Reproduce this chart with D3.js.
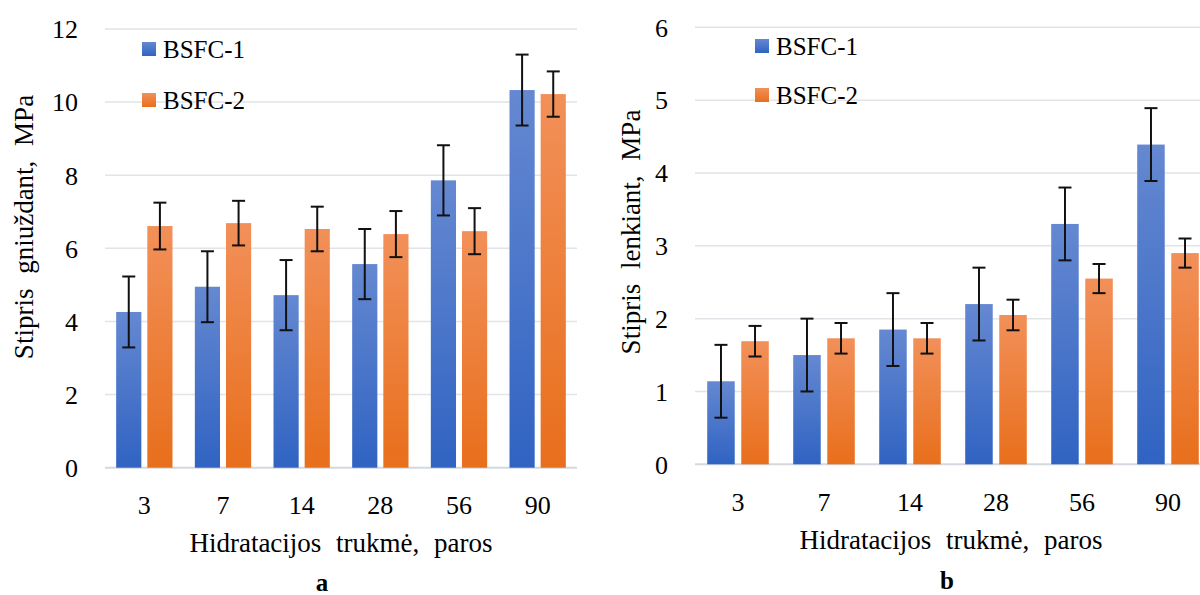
<!DOCTYPE html>
<html>
<head>
<meta charset="utf-8">
<script src="https://cdn.jsdelivr.net/npm/d3@7"></script>
<style>
  html, body { margin: 0; padding: 0; background: #fff; }
  svg { display: block; }
  svg text { font-family: "Liberation Serif", "Times New Roman", Tinos, "DejaVu Serif", serif !important; fill: #000; }
</style>
</head>
<body>
<svg id="chart" width="1200" height="595"></svg>
<script>
// Hydration time, days
const categories = ["3", "7", "14", "28", "56", "90"];
const seriesNames = ["BSFC-1", "BSFC-2"];

// (a) compressive strength, MPa
const compBsfc1 = [4.26, 4.95, 4.72, 5.57, 7.86, 10.33];
const compBsfc2 = [6.61, 6.69, 6.53, 6.39, 6.47, 10.22];
const compErr1 = [0.97, 0.97, 0.96, 0.96, 0.96, 0.97];
const compErr2 = [0.64, 0.61, 0.61, 0.63, 0.63, 0.62];
const compTicks = [0, 2, 4, 6, 8, 10, 12];

// (b) flexural strength, MPa
const flexBsfc1 = [1.14, 1.50, 1.85, 2.20, 3.30, 4.39];
const flexBsfc2 = [1.69, 1.73, 1.73, 2.05, 2.55, 2.90];
const flexErr1 = [0.50, 0.50, 0.50, 0.50, 0.50, 0.50];
const flexErr2 = [0.21, 0.21, 0.21, 0.21, 0.20, 0.20];
const flexTicks = [0, 1, 2, 3, 4, 5, 6];

const FONT = '"Liberation Serif", "Times New Roman", Tinos, "DejaVu Serif", serif';
const svg = d3.select("#chart");

// vertical gradients for the two series
const defs = svg.append("defs");
function addGradient(id, top, bottom) {
  const g = defs.append("linearGradient").attr("id", id)
    .attr("x1", 0).attr("y1", 0).attr("x2", 0).attr("y2", 1);
  g.append("stop").attr("offset", "0%").attr("stop-color", top);
  g.append("stop").attr("offset", "100%").attr("stop-color", bottom);
}
addGradient("gradBlue", "#6588d1", "#3063c2");
addGradient("gradOrange", "#f29059", "#e86f1c");
const fills = ["url(#gradBlue)", "url(#gradOrange)"];

function drawPanel(cfg) {
  const g = svg.append("g").attr("font-family", FONT);
  const x = d3.scaleBand().domain(categories).range([cfg.left, cfg.right]).padding(0);
  const y = d3.scaleLinear().domain([0, cfg.max]).range([cfg.bottom, cfg.top]);

  // horizontal gridlines
  g.append("g").selectAll("line").data(cfg.ticks).join("line")
    .attr("x1", cfg.left).attr("x2", cfg.right)
    .attr("y1", d => y(d)).attr("y2", d => y(d))
    .attr("stroke", d => d === 0 ? "#d4d8de" : "#e1e4e8")
    .attr("stroke-width", d => d === 0 ? 2 : 1.5);

  // y axis tick labels
  const yAxis = d3.axisLeft(y).tickValues(cfg.ticks).tickSize(0).tickPadding(0)
    .tickFormat(d3.format("d"));
  const ya = g.append("g").attr("transform", `translate(${cfg.left - 27},0)`).call(yAxis)
    .attr("font-family", FONT);
  ya.select(".domain").remove();
  ya.selectAll("text").attr("font-size", 26).attr("dy", "0.34em");

  // x axis tick labels
  const xAxis = d3.axisBottom(x).tickSize(0).tickPadding(0);
  const xa = g.append("g").attr("transform", `translate(0,${cfg.xLabelY})`).call(xAxis)
    .attr("font-family", FONT);
  xa.select(".domain").remove();
  xa.selectAll("text").attr("font-size", 26).attr("dy", 0);

  const bw = x.bandwidth() * 0.32;
  const gap = x.bandwidth() * 0.076;
  const offsets = [-gap / 2 - bw, gap / 2];

  cfg.series.forEach((vals, si) => {
    const errs = cfg.errors[si];
    g.append("g").selectAll("rect").data(vals).join("rect")
      .attr("x", (d, i) => x(categories[i]) + x.bandwidth() / 2 + offsets[si])
      .attr("y", d => y(d))
      .attr("width", bw)
      .attr("height", d => y(0) - y(d))
      .attr("fill", fills[si]);

    // error bars
    const eb = g.append("g").attr("stroke", "#111").attr("stroke-width", 2);
    vals.forEach((v, i) => {
      const cx = x(categories[i]) + x.bandwidth() / 2 + offsets[si] + bw / 2;
      const hi = y(v + errs[i]), lo = y(v - errs[i]);
      eb.append("line").attr("x1", cx).attr("x2", cx).attr("y1", hi).attr("y2", lo);
      eb.append("line").attr("x1", cx - 6.5).attr("x2", cx + 6.5).attr("y1", hi).attr("y2", hi);
      eb.append("line").attr("x1", cx - 6.5).attr("x2", cx + 6.5).attr("y1", lo).attr("y2", lo);
    });
  });

  // legend
  seriesNames.forEach((name, i) => {
    const ly = cfg.legendY[i];
    g.append("rect").attr("x", cfg.legendX).attr("y", ly - 7).attr("width", 14).attr("height", 14)
      .attr("fill", fills[i]);
    g.append("text").attr("x", cfg.legendX + 21).attr("y", ly).attr("dy", "0.35em")
      .attr("font-size", 25).text(name);
  });

  // axis titles
  g.append("text")
    .attr("transform", `translate(${cfg.yTitleX},${cfg.yTitleY}) rotate(-90)`)
    .attr("text-anchor", "middle").attr("font-size", 27)
    .style("word-spacing", "8px")
    .text(cfg.yTitle);
  g.append("text")
    .attr("x", cfg.xTitleX).attr("y", cfg.xTitleY)
    .attr("text-anchor", "middle").attr("font-size", 27)
    .style("word-spacing", "8px")
    .text("Hidratacijos trukmė, paros");
  g.append("text")
    .attr("x", cfg.letterX).attr("y", cfg.letterY)
    .attr("text-anchor", "middle").attr("font-size", 25).attr("font-weight", "bold")
    .text(cfg.letter);
}

drawPanel({
  left: 105, right: 577, top: 29, bottom: 467.7, max: 12, ticks: compTicks,
  series: [compBsfc1, compBsfc2], errors: [compErr1, compErr2],
  xLabelY: 514, legendX: 142, legendY: [49, 100],
  yTitle: "Stipris gniuždant, MPa", yTitleX: 33, yTitleY: 227,
  xTitleX: 341, xTitleY: 552, letter: "a", letterX: 322, letterY: 591
});

drawPanel({
  left: 695, right: 1211, top: 27.3, bottom: 464.3, max: 6, ticks: flexTicks,
  series: [flexBsfc1, flexBsfc2], errors: [flexErr1, flexErr2],
  xLabelY: 511, legendX: 755, legendY: [46, 95],
  yTitle: "Stipris lenkiant, MPa", yTitleX: 640, yTitleY: 232,
  xTitleX: 951, xTitleY: 549, letter: "b", letterX: 947, letterY: 589
});
</script>
</body>
</html>
